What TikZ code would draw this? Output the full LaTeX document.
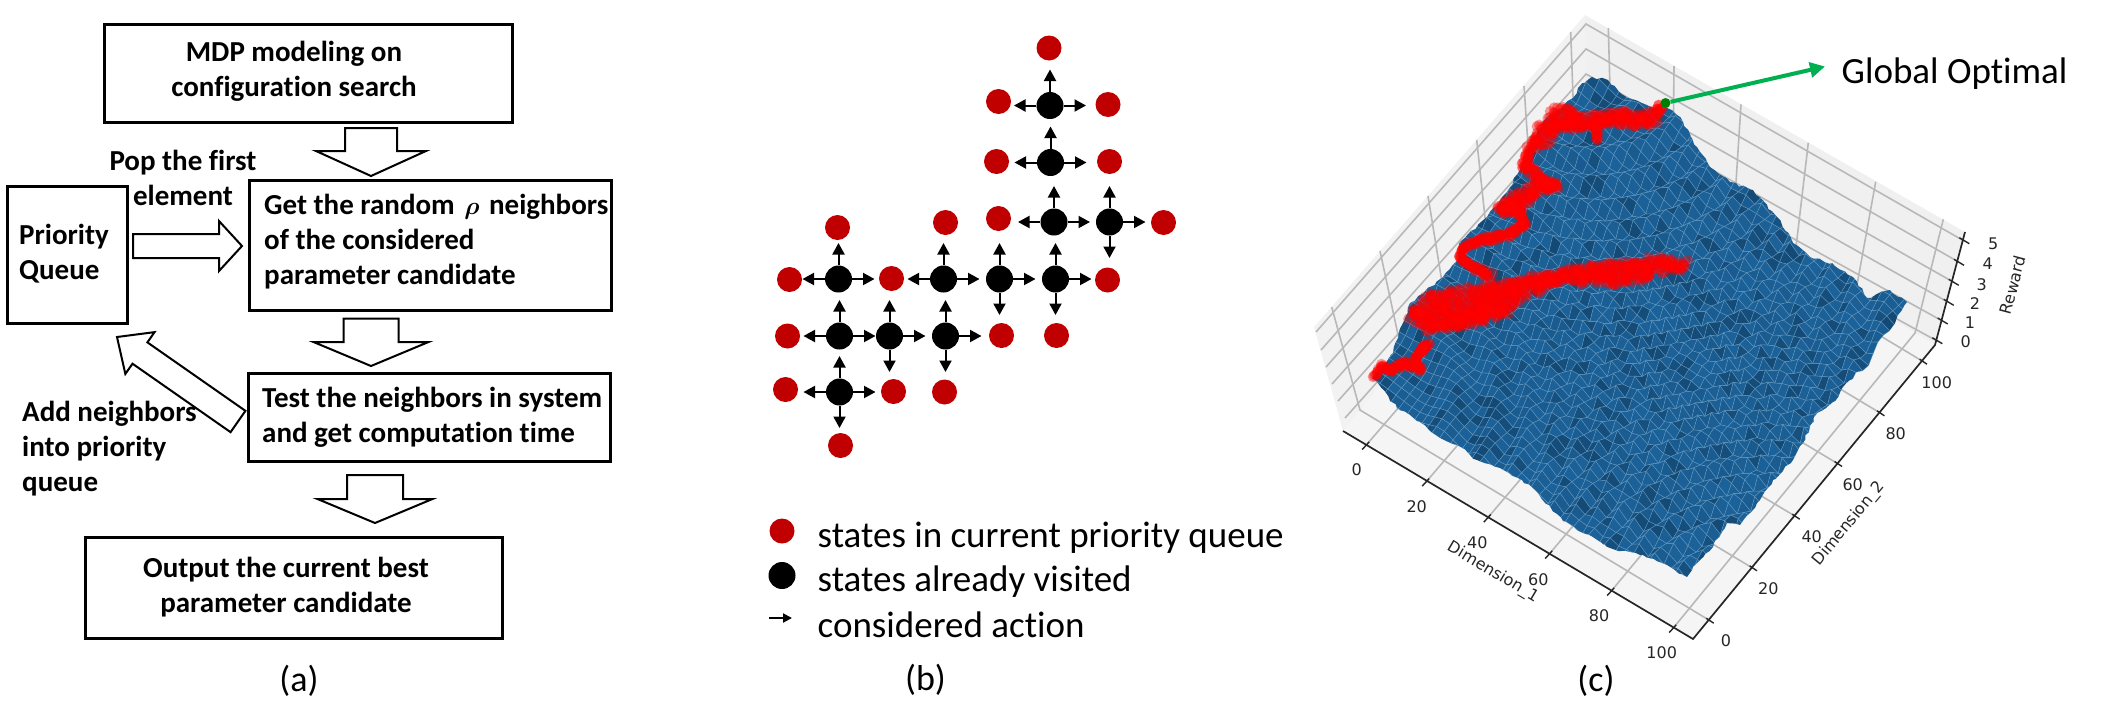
\documentclass[tikz,border=0pt]{standalone}
\usepackage{fontspec}
\setmainfont{Carlito}[Ligatures=NoCommon]
\newfontfamily\plotfont{DejaVu Sans}
\usetikzlibrary{arrows.meta,calc,decorations.pathmorphing}
\definecolor{fig-queue}{HTML}{C00000}
\definecolor{fig-green}{HTML}{00B050}
\definecolor{fig-dot}{HTML}{008000}
\definecolor{fig-surfdark}{HTML}{0F3D63}
\definecolor{fig-surflight}{HTML}{2274B4}
\definecolor{fig-cell}{HTML}{6FA3C8}
\definecolor{fig-grid}{HTML}{B8B8B8}
\definecolor{fig-axis}{HTML}{262626}
% white arrow outline: tail, tip, shaft half width, head half width, head length
\newcommand\blockarrow[5]{%
  \coordinate (headbase) at ($(#2)!#5pt!(#1)$);
  \draw[blockline] ($(#1)!#3pt!90:(#2)$) -- ($(headbase)!#3pt!-90:(#1)$) -- ($(headbase)!#4pt!-90:(#1)$)
    -- (#2) -- ($(headbase)!#4pt!90:(#1)$) -- ($(headbase)!#3pt!90:(#1)$) -- ($(#1)!#3pt!-90:(#2)$) -- cycle;
}
% scatter of see-through discs along a chain of points
\newcommand\redtrail[3]{%
  \foreach \x/\y/\w [remember=\x as \px (initially #1), remember=\y as \py (initially #2)] in {#3}{
    \pgfmathtruncatemacro\n{veclen(\x-\px,\y-\py)/1.5*(1+\w/5)+1}
    \foreach \i in {1,...,\n}{
      \pgfmathsetmacro\ta{\i/\n}
      \fill[trail] ({\px+\ta*(\x-\px)+rand*\w},{\py+\ta*(\y-\py)+rand*\w}) circle (5.5);
    }
  }
}
% grid point of the surface, pushed up or down so that the cells are uneven
\newcommand\cellpt[2]{({#1+0.36*sin(3*(#1)*(#1)+4*(#2)*(#2)+(#1)*(#2))},{#2-0.36*sin(3*(#1)*(#1)+4*(#2)*(#2)+(#1)*(#2))})}
\begin{document}
\begin{tikzpicture}[
    x=1pt, y=-1pt,
    flowbox/.style={draw, line width=3pt, inner sep=0pt},
    boxtext/.style={font=\fontsize{29}{35}\selectfont\bfseries, align=left, anchor=west, inner sep=0pt},
    boxcenter/.style={font=\fontsize{29}{35}\selectfont\bfseries, align=center, inner sep=0pt},
    blockline/.style={draw, fill=white, line width=2pt, line join=miter},
    visited/.style={circle, fill=black, minimum size=27pt, inner sep=0pt},
    queued/.style={circle, fill=fig-queue, minimum size=25pt, inner sep=0pt},
    act/.style={draw, line width=2pt, -{Triangle[length=11.5pt, width=12pt]}},
    actv/.style={act, to path={(\tikztostart) -- ($(\tikztostart)!36pt!(\tikztostart|-\tikztotarget)$)}},
    acth/.style={act, to path={(\tikztostart) -- ($(\tikztostart)!36pt!(\tikztostart-|\tikztotarget)$)}},
    legend/.style={font=\fontsize{37}{37}\selectfont, anchor=west, inner sep=0pt},
    caption/.style={font=\fontsize{36}{36}\selectfont, inner sep=0pt},
    pane/.style={draw=none, fill=#1},
    gridline/.style={draw=fig-grid, line width=1.6pt},
    axisline/.style={draw=fig-axis, line width=1.7pt, line join=miter},
    ticklab/.style={font=\plotfont\fontsize{16}{16}\selectfont, text=fig-axis, inner sep=0pt},
    trail/.style={fill=red, opacity=0.38},
]
\path[use as bounding box] (0,0) rectangle (2101,726);

% (a) search loop
\node[flowbox, minimum width=408pt, minimum height=98pt] (mdp) at (308,73) {};
\node[flowbox, minimum width=362pt, minimum height=130pt] (get) at (430,245) {};
\node[flowbox, minimum width=120pt, minimum height=137pt] (pq) at (67,254.5) {};
\node[flowbox, minimum width=362pt, minimum height=88pt] (test) at (429,417) {};
\node[flowbox, minimum width=417pt, minimum height=101pt] (out) at (293.5,587.5) {};
\node[boxcenter] (mdptext) at (294,71.5) {MDP modeling on\\configuration search};
\node[boxtext] (gettext) at (264,242) {Get the random\hspace{3pt} {\boldmath$\rho$}\hspace{3pt} neighbors\\of the considered\\parameter candidate};
\node[boxtext] (pqtext) at (19,253.5) {Priority\\Queue};
\node[boxtext] (testtext) at (262,417.5) {Test the neighbors in system\\and get computation time};
\node[boxcenter] (outtext) at (286,587.5) {Output the current best\\parameter candidate};
\node[boxcenter] (poptext) at (183,177.5) {Pop the first\\element};
\node[boxtext] (addtext) at (22,448.5) {Add neighbors\\into priority\\queue};
\coordinate (afrom) at (371,128);  \coordinate (ato) at (371,176);
\coordinate (bfrom) at (371,318.5); \coordinate (bto) at (371,366);
\coordinate (cfrom) at (375,475);  \coordinate (cto) at (375,523);
\coordinate (dfrom) at (133,246);  \coordinate (dto) at (242,246);
\coordinate (efrom) at (238,421.5); \coordinate (eto) at (117,337);
\blockarrow{afrom}{ato}{26}{55}{25}
\blockarrow{bfrom}{bto}{27.5}{57.5}{24}
\blockarrow{cfrom}{cto}{28}{57.5}{24}
\blockarrow{dfrom}{dto}{12}{25}{23}
\blockarrow{efrom}{eto}{13}{25.5}{28}
\node[caption] (capa) at (299,681) {(a)};

% (b) expanded states
\node[visited] (b1) at (1050,105.5) {};
\node[visited] (b2) at (1050.5,162.5) {};
\node[visited] (b3) at (1054,222) {};
\node[visited] (b4) at (1109.5,222) {};
\node[visited] (b5) at (1055.5,279) {};
\node[visited] (b6) at (999.5,279) {};
\node[visited] (b7) at (943.5,279) {};
\node[visited] (b8) at (838.5,279) {};
\node[visited] (b9) at (839.5,336) {};
\node[visited] (b10) at (889.5,336) {};
\node[visited] (b11) at (945.5,336) {};
\node[visited] (b12) at (839.5,392) {};
\node[queued] (r1) at (1049,48) {};
\node[queued] (r2) at (998.5,101.5) {};
\node[queued] (r3) at (1108,104.5) {};
\node[queued] (r4) at (996.5,161.5) {};
\node[queued] (r5) at (1109.5,161.5) {};
\node[queued] (r6) at (998.5,218.5) {};
\node[queued] (r7) at (1163.5,222.5) {};
\node[queued] (r8) at (945.5,222.5) {};
\node[queued] (r9) at (837.5,227.5) {};
\node[queued] (r10) at (789.5,279.5) {};
\node[queued] (r11) at (891.5,278.5) {};
\node[queued] (r12) at (1107.5,280) {};
\node[queued] (r13) at (787.5,336) {};
\node[queued] (r14) at (1001.5,335.5) {};
\node[queued] (r15) at (1056.5,335.5) {};
\node[queued] (r16) at (785.5,389.5) {};
\node[queued] (r17) at (893.5,391.5) {};
\node[queued] (r18) at (944.5,392) {};
\node[queued] (r19) at (840.5,445.5) {};
\draw[actv] (b1) to (r1);  \draw[acth] (b1) to (r2);  \draw[acth] (b1) to (r3);
\draw[actv] (b2) to (b1);  \draw[acth] (b2) to (r4);  \draw[acth] (b2) to (r5);
\draw[actv] (b3) to (b2);  \draw[acth] (b3) to (r6);  \draw[acth] (b3) to (b4);
\draw[actv] (b4) to (r5);  \draw[acth] (b4) to (r7);  \draw[actv] (b4) to (r12);
\draw[actv] (b5) to (b3);  \draw[acth] (b5) to (r12); \draw[actv] (b5) to (r15);
\draw[actv] (b6) to (r6);  \draw[acth] (b6) to (b5);  \draw[actv] (b6) to (r14);
\draw[actv] (b7) to (r8);  \draw[acth] (b7) to (b6);  \draw[acth] (b7) to (r11);
\draw[actv] (b8) to (r9);  \draw[acth] (b8) to (r10); \draw[acth] (b8) to (r11);
\draw[actv] (b9) to (b8);  \draw[acth] (b9) to (r13); \draw[acth] (b9) to (b10);
\draw[actv] (b10) to (r11); \draw[acth] (b10) to (b11); \draw[actv] (b10) to (r17);
\draw[actv] (b11) to (b7); \draw[acth] (b11) to (r14); \draw[actv] (b11) to (r18);
\draw[actv] (b12) to (b9); \draw[acth] (b12) to (r16); \draw[acth] (b12) to (r17);
\draw[actv] (b12) to (r19);
\node[queued] (legq) at (782,531) {};
\node[visited] (legv) at (782,575.5) {};
\coordinate (legfrom) at (769,618);  \coordinate (legto) at (792,618);
\draw[draw, line width=2pt, -{Triangle[length=9pt, width=9pt]}] (legfrom) -- (legto);
\node[legend] (legqt) at (817.5,538) {states in current priority queue};
\node[legend] (legvt) at (817.5,581.5) {states already visited};
\node[legend] (legat) at (817.5,625) {considered action};
\node[caption] (capb) at (925.5,680) {(b)};

% (c) reward surface
\fill[pane=black!5] (1343,431) -- (1585,137) -- (1585,15) -- (1314,327) -- cycle;
\fill[pane=black!6] (1585,137) -- (1935,345) -- (1965,232) -- (1585,15) -- cycle;
\fill[pane=black!4] (1343,431) -- (1693,639) -- (1935,345) -- (1585,137) -- cycle;
\foreach \lx/\ly/\ry/\ty [count=\k] in {1316/332/241/24, 1321/350/262/49, 1326/367/282/74, 1332/384/302/99, 1338/401/321/124, 1345/418/341/148}
    \draw[gridline] (\lx,\ly) -- (1586,\ty) -- (1964-\k*5.4+5.4,\ry);
\foreach \ta/\tb/\ma/\mb/\ba/\bb in {1331.7/307/1360/410/1710/620.7, 1380/251/1403/358/1753/568.3, 1428/196/1446/307/1796/516.7, 1476.7/140/1489/255/1838.3/464, 1524/86/1532/204/1880.7/413.3, 1570.7/32/1575/152/1923.3/361.7}
    \draw[gridline] (\ta,\tb) -- (\ma,\mb) -- (\ba,\bb);
\foreach \ta/\tb/\ma/\mb/\ba/\bb in {1608.3/28/1612/160/1365.7/445.7, 1674/66/1672.6/194.6/1425.7/482.3, 1741/104.3/1733/229/1487.3/518.3, 1808.3/142.7/1794/264/1548.7/554.7, 1875.7/181.7/1854.6/298/1610.7/591.7, 1943.3/219.3/1915/333/1672.7/628.7}
    \draw[gridline] (\ta,\tb) -- (\ma,\mb) -- (\ba,\bb);
\begin{scope}
    \pgfmathsetseed{11}
    \clip[decorate, decoration={random steps, segment length=5pt, amplitude=1.4pt}]
        (1372,378) -- (1393,353) -- (1403,323) -- (1410,303) -- (1443,277) -- (1458,260) -- (1460,242) -- (1487,217)
        -- (1507,192) -- (1520,170) -- (1530,143) -- (1547,117) -- (1573,98) -- (1578,88) -- (1592,77) -- (1608,80)
        -- (1628,98) -- (1642,103) -- (1653,108) -- (1667,108) -- (1677,115) -- (1683,122) -- (1697,147) -- (1710,167)
        -- (1730,182) -- (1753,190) -- (1777,217) -- (1793,243) -- (1810,257) -- (1832,263) -- (1853,277) -- (1867,298)
        -- (1890,290) -- (1907,302) -- (1897,317) -- (1883,342) -- (1870,367) -- (1850,380) -- (1833,402) -- (1817,413)
        -- (1803,443) -- (1793,460) -- (1773,480) -- (1760,500) -- (1740,525) -- (1727,523) -- (1713,547) -- (1697,563)
        -- (1687,577) -- (1667,565) -- (1640,555) -- (1610,548) -- (1583,533) -- (1563,521) -- (1540,496) -- (1522,480)
        -- (1500,468) -- (1477,460) -- (1457,445) -- (1440,438) -- (1417,421) -- (1397,408) -- (1380,386) -- cycle;
    \begin{scope}[shift={(1372,378)}, x={(7.875pt,-4.975pt)}, y={(5.5pt,7.525pt)}]
        \foreach \u in {-2,...,41}
            \foreach \v in {-2,...,43}{
                \pgfmathtruncatemacro\mixval{32+random(0,14)+(random(0,9)>7)*32}
                \filldraw[fill=fig-surfdark!\mixval!fig-surflight, draw=fig-cell, draw opacity=0.55, line width=0.55pt]
                    \cellpt{\u}{\v} -- \cellpt{\u+1}{\v} -- \cellpt{\u+1}{\v+1} -- \cellpt{\u}{\v+1} -- cycle;
            }
    \end{scope}
\end{scope}
\draw[axisline] (1343,431) -- (1693,639) -- (1935,345) -- (1965,232);
\foreach \x/\y/\lx/\ly/\t in {1365.7/445.7/1356.7/469.7/0, 1425.7/482.3/1416.7/507/20, 1487.3/518.3/1477.3/543/40, 1548.7/554.7/1538.3/579.7/60, 1610.7/591.7/1599/615.3/80, 1672.7/628.7/1661.7/652.3/100}{
    \draw[axisline, line width=1.4pt] (\x-3.5,\y+3.8) -- (\x+3.5,\y-3.8);
    \node[ticklab] (xtick\t) at (\lx,\ly) {\t};
}
\foreach \x/\y/\lx/\ly/\t in {1710/620.7/1726/641/0, 1753.3/568.3/1768.3/589/20, 1796/516.7/1811.7/536.7/40, 1838.3/464/1852.7/484.3/60, 1880.7/413.3/1895.7/433.3/80, 1923.3/361.7/1936.7/382.7/100}{
    \draw[axisline, line width=1.4pt] (\x-3.7,\y-2.5) -- (\x+3.7,\y+2.5);
    \node[ticklab] (ytick\t) at (\lx,\ly) {\t};
}
\foreach \x/\y/\lx/\ly/\t in {1937.3/340.7/1965.7/341.7/0, 1942.7/321/1970/322.7/1, 1948.7/302.3/1975/304/2, 1953.7/282.3/1981.7/284.3/3, 1959/262.3/1987.7/264/4, 1964.3/240.7/1993.3/243.3/5}{
    \draw[axisline, line width=1.4pt] (\x-5,\y-3) -- (\x+5,\y+3);
    \node[ticklab] (ztick\t) at (\lx,\ly) {\t};
}
\node[ticklab, rotate=-30.7] (xname) at (1492.7,572.3) {Dimension\_1};
\node[ticklab, rotate=50.4] (yname) at (1849,524) {Dimension\_2};
\node[ticklab, rotate=75] (zname) at (2012.7,285) {Reward};
\pgfmathsetseed{5}
\redtrail{1662}{107}{1655/115/3, 1640/122/7, 1620/117/7, 1600/119/6, 1583/122/6, 1567/116/10, 1553/123/12, 1540/138/9, 1530/150/4, 1525/167/3, 1537/177/4, 1557/185/2, 1533/190/5, 1517/203/7, 1500/210/6, 1520/213/3, 1525/225/2, 1507/235/3, 1483/240/3, 1463/247/2, 1460/258/1, 1473/267/2, 1490/275/3}
\redtrail{1597}{122}{1597/140/1}
\redtrail{1683}{265}{1660/265/6, 1640/272/10, 1600/275/11, 1570/276/8, 1540/282/6, 1510/292/10, 1480/300/13, 1450/305/14, 1425/308/13, 1415/318/7}
\redtrail{1510}{308}{1460/322/6, 1423/328/5}
\redtrail{1430}{343}{1420/353/1, 1425/345/1, 1415/359/1, 1420/370/2, 1405/363/3, 1392/370/3, 1382/366/2, 1374/377/1}
\node[circle, fill=fig-dot, minimum size=10pt, inner sep=0pt] (optdot) at (1665.5,103) {};
\coordinate (opttip) at (1825,66.5);
\draw[draw=fig-green, line width=4pt, -{Triangle[length=15pt, width=15pt]}] (optdot) -- (opttip);
\node[font=\fontsize{37}{37}\selectfont, anchor=west, inner sep=0pt] (opttext) at (1841.5,74) {Global Optimal};
\node[caption] (capc) at (1596,681) {(c)};
\end{tikzpicture}
\end{document}
